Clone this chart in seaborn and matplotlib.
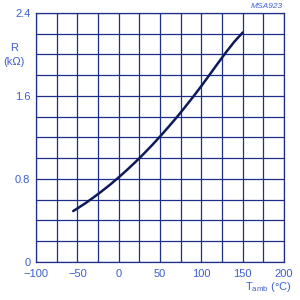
import matplotlib
matplotlib.use("Agg")
import matplotlib.pyplot as plt
import seaborn as sns
import pandas as pd

# Data (R vs ambient temperature)
temps = [-55, -50, -40, -30, -20, -10, 0, 10, 20, 25, 30, 40, 50, 60, 70, 80, 90, 100, 110, 120, 130, 140, 150]
resist = [0.490, 0.515, 0.567, 0.624, 0.684, 0.747, 0.815, 0.886, 0.961, 1.000, 1.040, 1.122, 1.209, 1.299,
          1.392, 1.490, 1.591, 1.696, 1.805, 1.915, 2.023, 2.124, 2.211]
x_ticks = [-100, -50, 0, 50, 100, 150, 200]
y_ticks = [0, 0.8, 1.6, 2.4]
x_grid = list(range(-100, 201, 25))
y_grid = [i * 0.2 for i in range(13)]

sns.set_style("white")
plt.rcParams['font.family'] = ['Liberation Sans', 'DejaVu Sans']

df = pd.DataFrame({"T": temps, "R": resist})

fig = plt.figure(figsize=(3, 3), dpi=100)
ax = fig.add_axes([0.12, 0.127, 0.827, 0.83])

grid_c = "#1f2e86"
text_c = "#3d5fcf"
curve_c = "#0d1a5c"

for gx in x_grid:
    ax.axvline(gx, color=grid_c, lw=0.9, zorder=1)
for gy in y_grid:
    ax.axhline(gy, color=grid_c, lw=0.9, zorder=1)

sns.lineplot(data=df, x="T", y="R", ax=ax, color=curve_c, lw=1.8, zorder=3)

ax.set_xlim(-100, 200)
ax.set_ylim(0, 2.4)
ax.set_xticks(x_ticks)
ax.set_yticks(y_ticks)
ax.set_xticklabels(["\u2212100", "\u221250", "0", "50", "100", "150", "200"])
ax.set_yticklabels(["0", "0.8", "1.6", "2.4"])
ax.tick_params(axis="both", length=0, labelsize=8, labelcolor=text_c)
ax.tick_params(axis="x", pad=5)
ax.tick_params(axis="y", pad=4)
ax.set_xlabel("")
ax.set_ylabel("")
for s in ax.spines.values():
    s.set_color(grid_c)
    s.set_linewidth(0.9)

fig.text(14 / 300, 1 - 48 / 300, "R", ha="center", va="center", fontsize=8, color=text_c)
fig.text(14 / 300, 1 - 62 / 300, "(k\u03a9)", ha="center", va="center", fontsize=8, color=text_c)
fig.text(268 / 300, 1 - 287 / 300, "T$_{\\mathregular{amb}}$ (\u00b0C)", ha="center", va="center",
         fontsize=8, color=text_c)
fig.text(283 / 300, 1 - 6 / 300, "MSA923", ha="right", va="center", fontsize=6,
         style="italic", color=text_c)

fig.savefig("out.png", dpi=100)
